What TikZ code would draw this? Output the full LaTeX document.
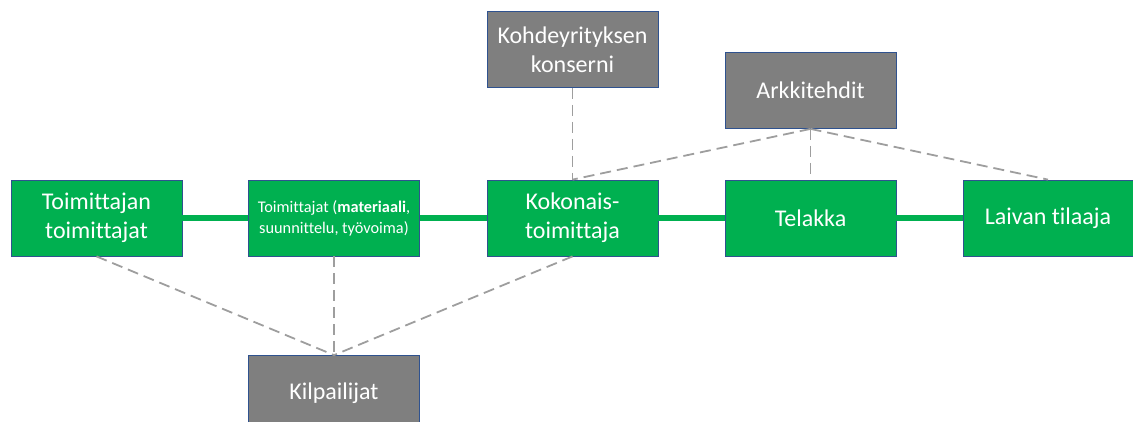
\documentclass[tikz,border=0pt]{standalone}
\usepackage{fontspec}
\setmainfont{Carlito}[Ligatures=NoCommon]
\definecolor{boxgreen}{HTML}{00B050}
\definecolor{boxgray}{HTML}{7F7F7F}
\definecolor{boxedge}{HTML}{2F528F}
\definecolor{linkgray}{HTML}{9E9E9E}
\begin{document}
\begin{tikzpicture}[x=1pt,y=-1pt,
  box/.style={draw=boxedge, line width=0.8pt, text=white, align=center,
    inner sep=0pt, minimum width=171pt, minimum height=76pt,
    font=\fontsize{24}{29}\selectfont},
  chain/.style={box, fill=boxgreen},
  party/.style={box, fill=boxgray},
  flow/.style={boxgreen, line width=6pt},
  link/.style={linkgray, line width=1.8pt, dash pattern=on 11pt off 6pt}]
\useasboundingbox (0,0) rectangle (1133,421);
% supply chain
\node[chain] (tt) at (96.5,218) {Toimittajan\\toimittajat};
\node[chain, font=\fontsize{16.3}{21}\selectfont] (tm) at (334,218) {Toimittajat (\textbf{materiaali},\\suunnittelu, työvoima)};
\node[chain] (ko) at (572.5,218) {Kokonais-\\toimittaja};
\node[chain] (te) at (810.5,218) {Telakka};
\node[chain, minimum width=170pt] (lt) at (1048,218) {Laivan tilaaja};
% other parties
\node[party] (kk) at (572.5,49.5) {Kohdeyrityksen\\konserni};
\node[party] (ar) at (810.5,90.5) {Arkkitehdit};
\node[party] (ki) at (334,393.5) {Kilpailijat};
% links between parties
\draw[link] (kk.south) -- (ko.north);
\draw[link] (ar.south) -- (ko.north);
\draw[link] (ar.south) -- (te.north);
\draw[link] (ar.south) -- (lt.north);
\draw[link] (tt.south) -- (ki.north);
\draw[link] (tm.south) -- (ki.north);
\draw[link] (ko.south) -- (ki.north);
% flow along the chain
\draw[flow] (tt.east) -- (tm.west);
\draw[flow] (tm.east) -- (ko.west);
\draw[flow] (ko.east) -- (te.west);
\draw[flow] (te.east) -- (lt.west);
\end{tikzpicture}
\end{document}
